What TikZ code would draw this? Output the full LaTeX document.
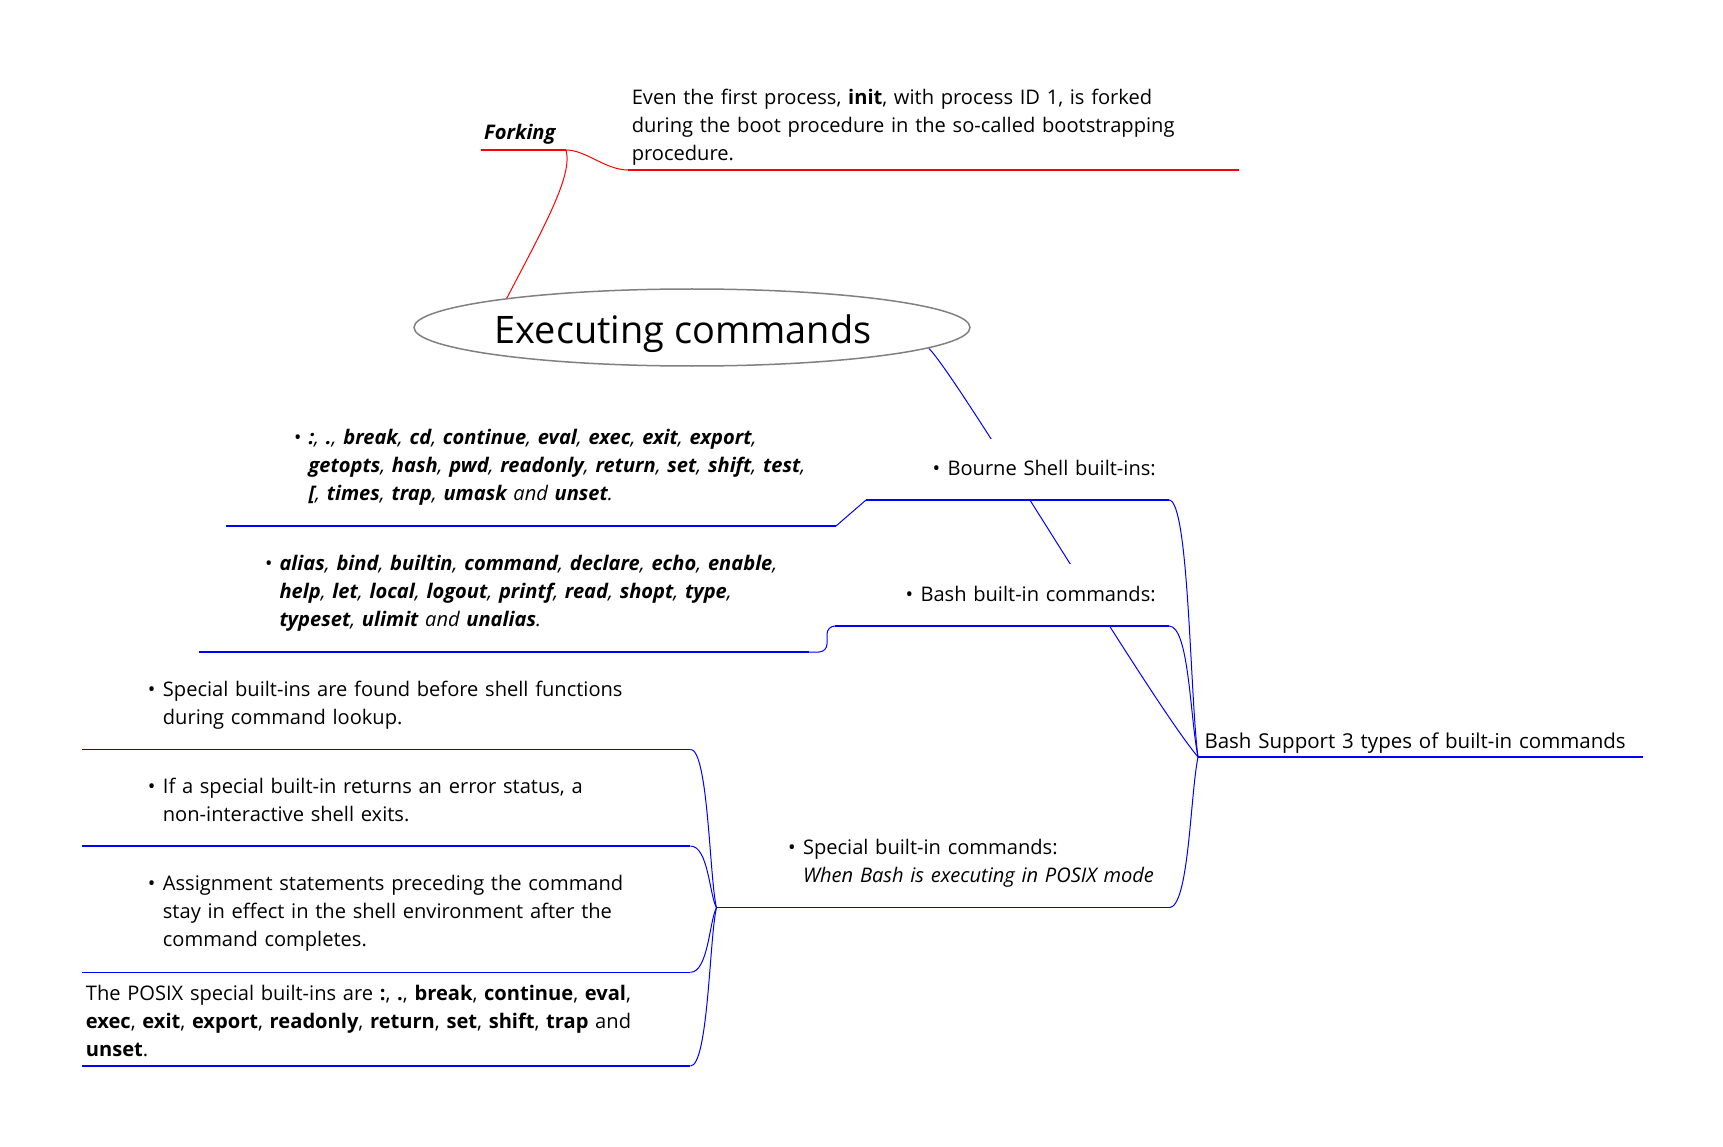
\documentclass[tikz,border=0pt]{standalone}
\usepackage{fontspec}
\setmainfont{Open Sans}
\usetikzlibrary{shapes.geometric,backgrounds}

\definecolor{mapblue}{RGB}{0,0,255}
\definecolor{mapred}{RGB}{255,0,0}
\definecolor{rimgray}{RGB}{128,128,128}

% bullet with indent, continuation indent, gap down to the underline
\newcommand\bl[1]{\hspace*{#1pt}\makebox[15pt][l]{\textbullet}}
\newcommand\ind[1]{\hspace*{\dimexpr#1pt+15pt\relax}}
\newcommand\drop[1]{\rule[-#1pt]{0pt}{0pt}}
\newcommand\cmd[1]{\textbf{#1}}

\tikzset{every picture/.style={line width=1pt}}
\tikzset{
  topic/.style={anchor=south west, inner xsep=3pt, inner ysep=0pt, align=left,
    fill=white, text width=#1pt-6pt, font=\fontsize{20.1}{28}\selectfont},
  blueline/.style={draw=mapblue, line width=1.5pt},
  bluelink/.style={draw=mapblue, line width=1pt},
  redline/.style={draw=mapred, line width=1.5pt},
  redlink/.style={draw=mapred, line width=1pt}
}

\begin{document}
\begin{tikzpicture}[x=1pt,y=1pt,yscale=-1]
\useasboundingbox (0,0) rectangle (1723,1147);

% central topic
\node[ellipse, draw=rimgray, line width=1.5pt, minimum width=556pt, minimum height=77pt,
  inner sep=0pt, text height=31pt, text depth=0pt, font=\fontsize{37.9}{44}\selectfont]
  (root) at (692,327.5) {\hspace*{-18pt}Executing commands};

% forking branch
\node[topic=84.3] (forking) at (480.7,150) {\textbf{\textit{Forking}}\drop{9.5}};
\node[topic=609.7] (forkdesc) at (628.3,170) {Even the first process, \textbf{init}, with process ID 1, is forked\\
  during the boot procedure in the so-called bootstrapping\\
  procedure.\drop{9}};

% built-in commands branch
\node[topic=444, font=\fontsize{20.5}{28}\selectfont] (support) at (1198,757)
  {\hspace*{3pt}Bash Support 3 types of built-in commands\drop{8}};
\node[topic=302, text height=37pt] (bshell) at (866,500) {\bl{63}Bourne Shell built-ins:\drop{24}};
\node[topic=333, text height=37pt] (bashin) at (835,626) {\bl{67}Bash built-in commands:\drop{24.5}};
\node[topic=451.5] (special) at (716.5,907.7) {\bl{68}Special built-in commands:\\
  \ind{68}\textit{When Bash is executing in POSIX mode}\drop{24.5}};

\node[topic=609] (bshlist) at (226,526) {\itshape\bl{64}\cmd{:}, \cmd{.}, \cmd{break}, \cmd{cd}, \cmd{continue}, \cmd{eval}, \cmd{exec}, \cmd{exit}, \cmd{export},\\
  \ind{64}\cmd{getopts}, \cmd{hash}, \cmd{pwd}, \cmd{readonly}, \cmd{return}, \cmd{set}, \cmd{shift}, \cmd{test},\\
  \ind{64}\cmd{[}, \cmd{times}, \cmd{trap}, \cmd{umask} and \cmd{unset}.\drop{25.5}};
\node[topic=609] (bashlist) at (199,652) {\itshape\bl{62}\cmd{alias}, \cmd{bind}, \cmd{builtin}, \cmd{command}, \cmd{declare}, \cmd{echo}, \cmd{enable},\\
  \ind{62}\cmd{help}, \cmd{let}, \cmd{local}, \cmd{logout}, \cmd{printf}, \cmd{read}, \cmd{shopt}, \cmd{type},\\
  \ind{62}\cmd{typeset}, \cmd{ulimit} and \cmd{unalias}.\drop{25}};

\node[topic=607] (speca) at (82.4,749.3) {\bl{62}Special built-ins are found before shell functions\\
  \ind{62}during command lookup.\drop{24}};
\node[topic=607] (specb) at (82.4,846) {\bl{62}If a special built-in returns an error status, a\\
  \ind{62}non-interactive shell exits.\drop{24}};
\node[topic=607] (specc) at (82.4,972.3) {\bl{62}Assignment statements preceding the command\\
  \ind{62}stay in effect in the shell environment after the\\
  \ind{62}command completes.\drop{25}};
\node[topic=607] (specd) at (82.4,1066) {The POSIX special built-ins are \cmd{:}, \cmd{.}, \cmd{break}, \cmd{continue}, \cmd{eval},\\
  \cmd{exec}, \cmd{exit}, \cmd{export}, \cmd{readonly}, \cmd{return}, \cmd{set}, \cmd{shift}, \cmd{trap} and\\
  \cmd{unset}.\drop{9.5}};

% underlines
\foreach \n in {support,bshell,bashin,special,bshlist,bashlist,speca,specb,specc,specd}
  \draw[blueline] (\n.south west) -- (\n.south east);
\foreach \n in {forking,forkdesc}
  \draw[redline] (\n.south west) -- (\n.south east);

% connectors
\begin{pgfonlayer}{background}
\draw[bluelink] (root.-5.3) .. controls (960,380) and (1150,700) .. (support.south west);
\end{pgfonlayer}
\draw[redlink] (root.171.2) .. controls (545,225) and (573,175) .. (forking.south east);
\draw[redlink] (forking.south east) .. controls +(20,0) and +(-23,0) .. (forkdesc.south west);

\draw[bluelink] (bshell.south east) .. controls +(20,0) and +(-8,-60) .. (support.south west);
\draw[bluelink] (bashin.south east) .. controls +(20,0) and +(-8,-40) .. (support.south west);
\draw[bluelink] (special.south east) .. controls +(20,0) and +(-8,40) .. (support.south west);

\draw[bluelink] (bshlist.south east) -- (bshell.south west);
\draw[bluelink, rounded corners=8pt] (bashlist.south east) -- ++(18,0) |- (bashin.south west);

\draw[bluelink] (speca.south east) .. controls +(18,0) and +(-7,-28) .. (special.south west);
\draw[bluelink] (specb.south east) .. controls +(18,0) and +(-7,-12) .. (special.south west);
\draw[bluelink] (specc.south east) .. controls +(18,0) and +(-7,12) .. (special.south west);
\draw[bluelink] (specd.south east) .. controls +(18,0) and +(-7,28) .. (special.south west);

\end{tikzpicture}
\end{document}
